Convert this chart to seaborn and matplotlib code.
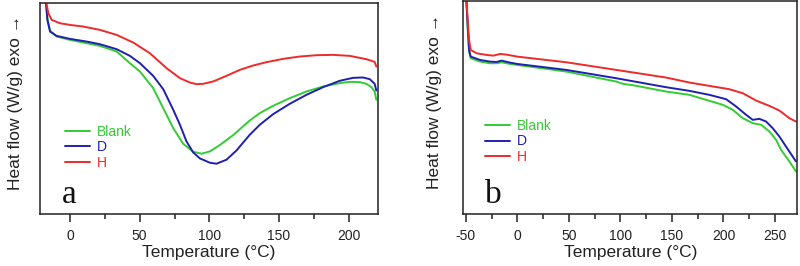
import pandas as pd
import matplotlib.pyplot as plt
import seaborn as sns
from matplotlib.ticker import MultipleLocator, NullLocator

sns.set_style("ticks")
plt.rcParams['font.family'] = ['Liberation Sans', 'DejaVu Sans']
plt.rcParams['axes.unicode_minus'] = False

# ---- panel a (DSC, -20..220 C) ----
a_blank_t = [-17.4, -16.2, -14.3, -9.6, 0, 11.9, 21.5, 33.5, 43.0, 50.2, 59.7, 66.9, 74.1, 81.2, 88.4, 94.4,
             100.4, 107.5, 117.1, 129.0, 136.2, 145.8, 157.7, 169.7, 181.6, 193.5, 200.7, 207.9, 212.7, 216.3,
             218.6, 219.8]
a_blank_hf = [6.43, 5.88, 5.51, 5.33, 5.23, 5.13, 5.05, 4.88, 4.53, 4.28, 3.78, 3.18, 2.58, 2.11, 1.87, 1.81,
              1.88, 2.07, 2.37, 2.81, 3.03, 3.25, 3.48, 3.68, 3.83, 3.93, 3.97, 3.96, 3.91, 3.81, 3.68, 3.43]
a_d_t = [-17.4, -16.2, -14.3, -9.6, 0, 11.9, 21.5, 33.5, 43.0, 50.2, 59.7, 66.9, 74.1, 78.9, 83.6, 88.4, 93.2,
         100.4, 105.1, 112.3, 119.5, 129.0, 136.2, 145.8, 157.7, 169.7, 181.6, 193.5, 203.1, 210.3, 215.1,
         218.6, 219.8]
a_d_hf = [6.43, 5.83, 5.48, 5.35, 5.26, 5.18, 5.10, 4.95, 4.75, 4.53, 4.15, 3.75, 3.13, 2.68, 2.18, 1.85, 1.67,
          1.54, 1.51, 1.63, 1.91, 2.38, 2.68, 3.00, 3.31, 3.58, 3.81, 4.00, 4.09, 4.10, 4.05, 3.91, 3.71]
a_h_t = [-17.4, -15.5, -13.1, -7.2, 0, 9.6, 21.5, 33.5, 45.4, 57.3, 69.3, 78.9, 86.0, 90.8, 95.6, 102.7,
         112.3, 121.9, 131.4, 141.0, 152.9, 164.9, 176.8, 188.8, 200.7, 212.7, 218.6, 219.8]
a_h_hf = [6.43, 6.03, 5.83, 5.73, 5.68, 5.63, 5.53, 5.38, 5.15, 4.83, 4.38, 4.08, 3.95, 3.90, 3.91, 3.98,
          4.15, 4.33, 4.46, 4.56, 4.66, 4.73, 4.77, 4.78, 4.75, 4.65, 4.57, 4.43]

# ---- panel b (-50..270 C) ----
b_blank_t = [-49.4, -48.1, -46.8, -45.2, -36.1, -26.5, -20.0, -15.2, -7.1, 0, 47.7, 80.0, 96.1, 102.6, 112.3,
             144.5, 167.1, 183.2, 199.4, 209.0, 218.7, 228.4, 236.5, 244.5, 251.0, 255.8, 263.9, 270.3]
b_blank_hf = [6.43, 5.58, 4.88, 4.68, 4.58, 4.53, 4.53, 4.56, 4.51, 4.48, 4.28, 4.08, 3.98, 3.91, 3.87,
              3.68, 3.58, 3.43, 3.28, 3.13, 2.88, 2.73, 2.68, 2.48, 2.23, 1.93, 1.58, 1.28]
b_d_t = [-49.4, -48.1, -46.8, -45.2, -36.1, -26.5, -20.0, -15.2, -7.1, 0, 47.7, 96.1, 144.5, 167.1, 186.5,
         202.6, 212.3, 222.0, 228.4, 234.8, 241.3, 247.7, 254.2, 260.6, 270.3]
b_d_hf = [6.43, 5.63, 4.93, 4.73, 4.63, 4.58, 4.57, 4.61, 4.55, 4.51, 4.33, 4.08, 3.81, 3.70, 3.58,
          3.45, 3.23, 2.98, 2.83, 2.86, 2.78, 2.58, 2.33, 2.03, 1.58]
b_h_t = [-49.4, -48.1, -46.8, -45.2, -39.4, -29.7, -23.2, -16.8, -10.3, 0, 47.7, 96.1, 144.5, 167.1, 186.5,
         205.8, 218.7, 231.6, 244.5, 254.2, 263.9, 270.3]
b_h_hf = [6.43, 5.83, 5.23, 4.93, 4.83, 4.78, 4.76, 4.81, 4.79, 4.73, 4.56, 4.33, 4.10, 3.95, 3.85,
          3.75, 3.63, 3.41, 3.25, 3.11, 2.88, 2.78]

samples = ["Blank", "D", "H"]
my_palette = {"Blank": "#33cc33", "D": "#2020b0", "H": "#ee2a2a"}


def make_df(series):
    parts = []
    for name, (t, hf) in zip(samples, series):
        parts.append(pd.DataFrame({"T": t, "HF": hf, "Sample": name}))
    return pd.concat(parts, ignore_index=True)


df_a = make_df([(a_blank_t, a_blank_hf), (a_d_t, a_d_hf), (a_h_t, a_h_hf)])
df_b = make_df([(b_blank_t, b_blank_hf), (b_d_t, b_d_hf), (b_h_t, b_h_hf)])

fig = plt.figure(figsize=(8, 2.66), dpi=100)
ax_a = fig.add_axes([0.05, 0.1955, 0.4225, 0.7935])
ax_b = fig.add_axes([0.579, 0.1955, 0.4175, 0.8005])

panels = [
    (ax_a, df_a, (-21.5, 221), 50, 25, 6.34, "a", (0.074, 0.422), 12, 0.066),
    (ax_b, df_b, (-52.5, 271.5), 50, 25, 6.40, "b", (0.066, 0.446), 15, 0.066),
]

for ax, df, xlim, major, minor, ytop, letter, leg_pos, lpad, lx in panels:
    sns.lineplot(data=df, x="T", y="HF", hue="Sample", hue_order=samples, palette=my_palette,
                 sort=False, estimator=None, linewidth=1.4, ax=ax)
    ax.set_xlim(*xlim)
    ax.set_ylim(0, ytop)
    ax.xaxis.set_major_locator(MultipleLocator(major))
    ax.xaxis.set_minor_locator(MultipleLocator(minor))
    ax.yaxis.set_major_locator(NullLocator())
    ax.tick_params(axis="x", which="major", length=6, width=1.1, labelsize=10, pad=5, colors="#222222")
    ax.tick_params(axis="x", which="minor", length=3.5, width=1.1, colors="#222222")
    for sp in ax.spines.values():
        sp.set_linewidth(1.1)
        sp.set_color("#222222")
    ax.set_xlabel("Temperature (°C)", fontsize=12.5, labelpad=1, color="#222222")
    ax.set_ylabel("Heat flow (W/g) exo →", fontsize=12.5, labelpad=lpad, color="#222222", y=0.53)
    ax.text(lx, 0.052, letter, transform=ax.transAxes, family="Liberation Serif", fontsize=24,
            va="baseline", ha="left", color="#111111")
    ax.legend(loc="upper left", bbox_to_anchor=leg_pos, frameon=False, fontsize=10,
              labelcolor="linecolor", handlelength=1.8, handletextpad=0.5, labelspacing=0.1,
              borderpad=0, borderaxespad=0)

fig.savefig("out.png", dpi=100)
